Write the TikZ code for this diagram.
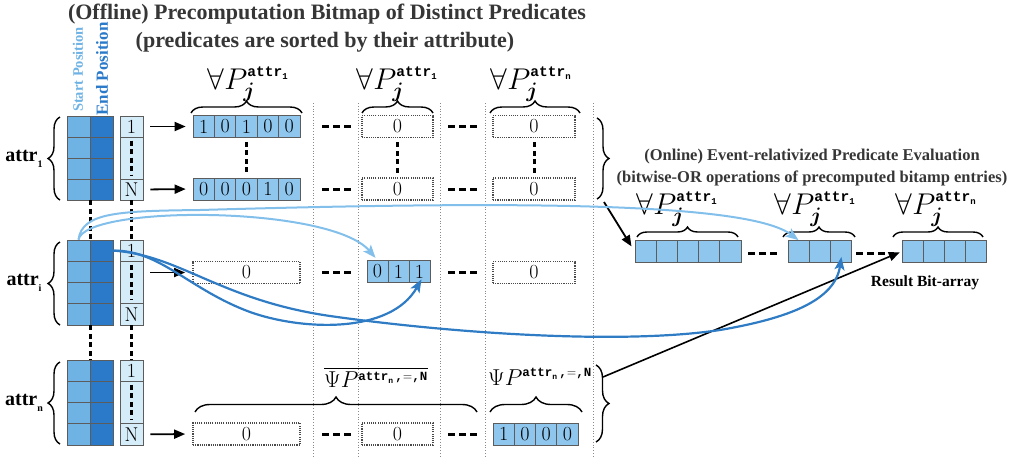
\RequirePackage{fix-cm}
\documentclass[tikz,border=0pt]{standalone}
\usepackage{amsmath}
\usepackage{fontspec}
\newfontfamily\tms{Liberation Serif}
\newfontfamily\ttb{Liberation Mono}
\usetikzlibrary{arrows.meta,decorations.pathreplacing,calc}

\definecolor{startblue}{HTML}{6FB3E5}
\definecolor{endblue}{HTML}{2B7ACA}
\definecolor{idxfill}{HTML}{D5ECF9}
\definecolor{bitfill}{HTML}{8EC6EE}
\definecolor{edgegray}{HTML}{5C5C5C}
\definecolor{dotgray}{HTML}{4A4A4A}
\definecolor{inkgray}{HTML}{363636}
\definecolor{lightcurve}{HTML}{82BFEA}
\definecolor{darkcurve}{HTML}{2F7CC5}
\definecolor{seplines}{HTML}{8A8A8A}

% superscripts of the predicate labels
\newcommand\atr[1]{\hbox{\fontsize{14.5}{14.5}\selectfont\ttb\bfseries attr\raisebox{-3pt}{\fontsize{9}{9}\selectfont #1}}}
\newcommand\atrN{\hbox{\fontsize{12.5}{12.5}\selectfont\ttb\bfseries attr\raisebox{-2.5pt}{\fontsize{8}{8}\selectfont n}\,,$=$,N}}

% a row of filled bit cells: name, left x, centre y, bits, cell width
\newcommand\bitrow[5]{%
  \foreach \b [count=\k] in {#4}{%
    \node[bit, minimum width=#5pt] (#1-\k) at ({#2+(\k-0.5)*#5}, #3) {\b};}}
% a row of empty bit cells: name, left x, centre y, number of cells, cell width
\newcommand\blankrow[5]{%
  \foreach \k in {1,...,#4}{%
    \node[bit, minimum width=#5pt] (#1-\k) at ({#2+(\k-0.5)*#5}, #3) {};}}
% start/end position columns and index column of one attribute: name, top y, row height
\newcommand\attrgroup[3]{%
  \foreach \k in {1,...,4}{%
    \node[cell, fill=startblue, minimum width=23pt, minimum height=#3pt] (s#1-\k) at (78.5, {#2+(\k-0.5)*#3}) {};
    \node[cell, fill=endblue, minimum width=23pt, minimum height=#3pt] (e#1-\k) at (101.5, {#2+(\k-0.5)*#3}) {};}
  \node[cell, fill=idxfill, minimum width=23pt, minimum height=#3pt] (x#1-1) at (131.5, {#2+0.5*#3}) {1};
  \node[cell, fill=idxfill, minimum width=23pt, minimum height={2*#3}] (x#1-m) at (131.5, {#2+2*#3}) {};
  \node[cell, fill=idxfill, minimum width=23pt, minimum height=#3pt] (x#1-N) at (131.5, {#2+3.5*#3}) {N};
  \draw[vdash, shorten <=4pt, shorten >=4pt] (x#1-m.north) -- (x#1-m.south);}

\begin{document}
\begin{tikzpicture}[x=1pt, y=-1pt,
  cell/.style={draw=edgegray, line width=0.7pt, inner sep=0pt, font=\fontsize{20}{20}\selectfont},
  bit/.style={cell, fill=bitfill, minimum height=22pt},
  dotbox/.style={draw=dotgray, line width=1.7pt, dash pattern=on 1.1pt off 1.1pt, inner sep=0pt,
                 minimum height=22pt, font=\fontsize{20}{20}\selectfont},
  vdash/.style={line width=3pt, dash pattern=on 5pt off 3.5pt},
  hdash/.style={line width=3pt, dash pattern=on 7pt off 4pt},
  sepline/.style={draw=seplines, line width=0.8pt, dotted},
  brc/.style={decorate, decoration={brace, amplitude=#1}, line width=1.4pt},
  brc/.default=10pt,
  arr/.style={-{Triangle[length=11pt,width=9pt]}, line width=1.8pt},
  lcurve/.style={draw=lightcurve, line width=2pt, -{Stealth[length=13pt,width=10pt,inset=3pt]}},
  dcurve/.style={draw=darkcurve, line width=2.2pt, -{Stealth[length=13pt,width=10pt,inset=3pt]}},
  title/.style={font=\tms\bfseries\fontsize{22}{24}\selectfont, text=inkgray, inner sep=0pt},
  subtitle/.style={font=\tms\bfseries\fontsize{16.5}{18}\selectfont, text=inkgray, inner sep=0pt},
  attrlab/.style={font=\tms\bfseries\fontsize{20}{20}\selectfont, inner sep=0pt},
  flab/.style={font=\fontsize{30}{30}\selectfont, inner sep=0pt},
  plab/.style={font=\fontsize{23}{23}\selectfont, inner sep=0pt}]
\useasboundingbox (0,0) rectangle (1023,458);

% ---- titles
\node[title] (t1) at (327,14) {(Offline) Precomputation Bitmap of Distinct Predicates};
\node[title] (t2) at (325,42) {(predicates are sorted by their attribute)};

% ---- column separators
\foreach \x in {313,358,440,485,593}
  \draw[sepline] (\x,103) -- (\x,458);

% ---- position / index columns
\node[rotate=90, font=\tms\bfseries\fontsize{14.5}{14.5}\selectfont, text=startblue, inner sep=0pt] (sp) at (78,69.5) {Start Position};
\node[rotate=90, font=\tms\bfseries\fontsize{17}{17}\selectfont, text=endblue, inner sep=0pt] (ep) at (102,69) {End Position};
\attrgroup{1}{116}{21}
\attrgroup{i}{240}{21.25}
\attrgroup{n}{360}{21.25}
\draw[vdash] (s1-4.south east) -- (si-1.north east);
\draw[vdash] (x1-N.south) -- (xi-1.north);
\draw[vdash] (si-4.south east) -- (sn-1.north east);
\draw[vdash] (xi-N.south) -- (xn-1.north);

% ---- attribute braces
\node[attrlab] (a1) at (24,159) {attr\raisebox{-6pt}{\fontsize{10}{10}\selectfont 1}};
\node[attrlab] (ai) at (24,283) {attr\raisebox{-6pt}{\fontsize{10}{10}\selectfont i}};
\node[attrlab] (an) at (24,403) {attr\raisebox{-6pt}{\fontsize{10}{10}\selectfont n}};
\draw[brc=12pt] (60,200) -- (60,117);
\draw[brc=12pt] (60,325) -- (60,242);
\draw[brc=12pt] (60,444) -- (60,362);

% ---- bitmap column 1
\bitrow{b1}{193}{126.5}{1,0,1,0,0}{21.4}
\bitrow{bN}{193}{189}{0,0,0,1,0}{21.4}
\node[dotbox, minimum width=107pt] (bi) at (246.5,272.5) {0};
\node[dotbox, minimum width=107pt] (bn) at (246.5,434) {0};
\draw[vdash, shorten <=4pt, shorten >=4pt] (b1-3.south) -- (bN-3.north);

% ---- bitmap column 2
\node[dotbox, minimum width=71pt] (c2-1) at (397.5,126.5) {0};
\node[dotbox, minimum width=71pt] (c2-N) at (397.5,189) {0};
\bitrow{c2i}{367}{271.5}{0,1,1}{21}
\node[dotbox, minimum width=71pt] (c2-n) at (397.5,434) {0};
\draw[vdash, shorten <=4pt, shorten >=4pt] (c2-1.south) -- (c2-N.north);

% ---- bitmap column 3
\node[dotbox, minimum width=82pt] (c3-1) at (534,126.5) {0};
\node[dotbox, minimum width=82pt] (c3-N) at (534,189) {0};
\node[dotbox, minimum width=82pt] (c3-i) at (534,272.5) {0};
\bitrow{c3n}{493}{434}{1,0,0,0}{21.25}
\draw[vdash, shorten <=4pt, shorten >=4pt] (c3-1.south) -- (c3-N.north);

% ---- elision dashes between columns
\foreach \y in {126.5,189,272.5,434}{
  \draw[hdash] (322,\y) -- (351,\y);
  \draw[hdash] (448,\y) -- (477,\y);}

% ---- index -> bitmap arrows
\draw[arr, shorten <=7pt, shorten >=7pt] (x1-1.east) -- (b1-1.west);
\draw[arr, shorten <=7pt, shorten >=7pt] (x1-N.east) -- (bN-1.west);
\draw[arr, shorten <=7pt, shorten >=7pt] (xi-m.east |- bi.west) -- (bi.west);
\draw[arr, shorten <=7pt, shorten >=7pt] (xn-N.east) -- (bn.west);

% ---- column labels
\node[flab] (l1) at (248,84) {$\forall P_{\boldsymbol{j}}^{\atr{1}}$};
\node[flab] (l2) at (397,84) {$\forall P_{\boldsymbol{j}}^{\atr{1}}$};
\node[flab] (l3) at (531,84) {$\forall P_{\boldsymbol{j}}^{\atr{n}}$};
\draw[brc=12pt] (191,113) -- (302,113);
\draw[brc=12pt] (362,113) -- (433,113);
\draw[brc=12pt] (490,113) -- (580,113);

% ---- predicate labels of attr_n
\node[plab] (p1) at (376,377) {$\overline{\Psi P^{\atrN}}$};
\node[plab] (p2) at (540,377) {$\Psi P^{\atrN}$};
\draw[brc=15pt] (195,412) -- (477,412);
\draw[brc=15pt] (490,412) -- (582,412);

% ---- right braces
\draw[brc=12pt] (597,118) -- (597,199);
\draw[brc=13pt] (596,365) -- (596,442);
\coordinate (k1) at (604,202);
\coordinate (k2) at (603,377);

% ---- online evaluation
\node[subtitle] (o-t1) at (812,157) {(Online) Event-relativized Predicate Evaluation};
\node[subtitle] (o-t2) at (812,178) {(bitwise-OR operations of precomputed bitamp entries)};
\blankrow{o1}{635}{251.5}{5}{21.2}
\blankrow{o2}{788}{251.5}{3}{21}
\blankrow{o3}{902}{251.5}{4}{21}
\draw[hdash] (748,253) -- (777,253);
\draw[hdash] (856,253) -- (885,253);
\node[flab] (m1) at (677,209) {$\forall P_{\boldsymbol{j}}^{\atr{1}}$};
\node[flab] (m2) at (815,209) {$\forall P_{\boldsymbol{j}}^{\atr{1}}$};
\node[flab] (m3) at (936,209) {$\forall P_{\boldsymbol{j}}^{\atr{n}}$};
\draw[brc=10pt] (637,237) -- (738,237);
\draw[brc=10pt] (783,237) -- (855,237);
\draw[brc=10pt] (893,237) -- (983,237);
\node[font=\tms\bfseries\fontsize{15.5}{16}\selectfont, inner sep=0pt] (res) at (925,283) {Result Bit-array};

% ---- black connectors
\draw[arr, shorten >=6pt] (k1) -- (o1-1.west);
\draw[arr, line width=1.6pt, shorten >=2pt] (k2) -- (o3-1.west);

% ---- blue curves from attr_i
\draw[lcurve] (si-1.north) .. controls (82,212) and (120,211) .. (200,210)
   .. controls (480,202) and (745,200) .. (o2-1.north);
\draw[lcurve, shorten >=3pt] (si-1.north) .. controls (85,205) and (330,205) .. (c2i-1.north);
\draw[dcurve, shorten >=-4pt] (ei-1.east) .. controls (160,250) and (190,290) .. (250,312)
   .. controls (300,330) and (390,335) .. (c2i-3.south);
\draw[dcurve, shorten >=-6pt] (ei-1.east) .. controls (180,255) and (220,300) .. (330,316)
   .. controls (450,333) and (620,345) .. (720,330)
   .. controls (790,318) and (835,300) .. (o2-3.south);
\end{tikzpicture}
\end{document}
